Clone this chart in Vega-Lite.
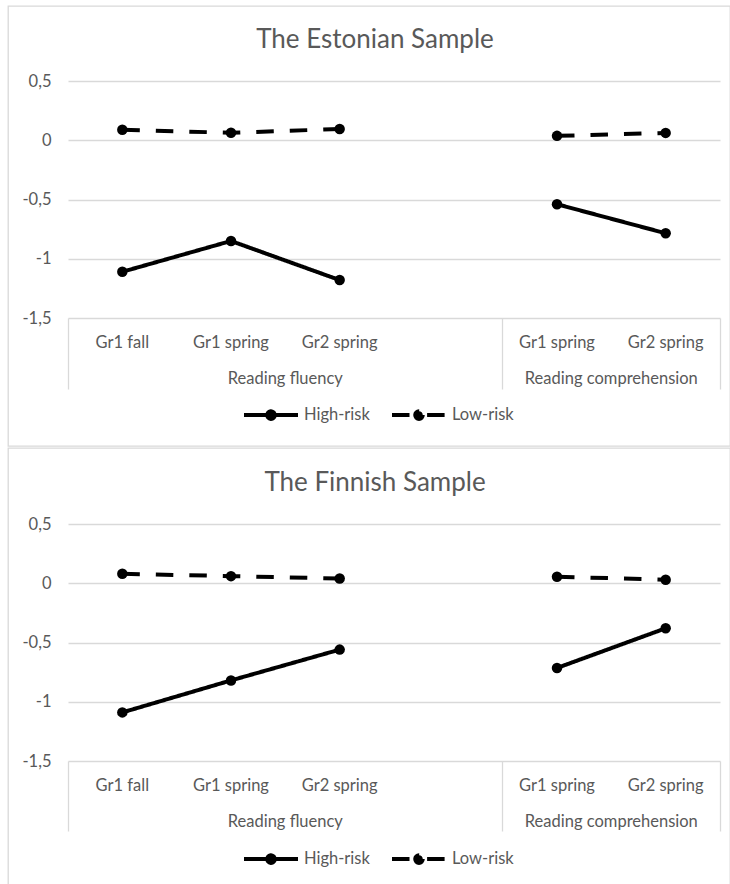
{
  "$schema": "https://vega.github.io/schema/vega-lite/v6.json",
  "padding": {"left": 7, "top": 5, "right": 0, "bottom": 0},
  "spacing": 0,
  "resolve": {"scale": {"strokeDash": "independent"}, "legend": {"strokeDash": "independent"}},
  "datasets": {
    "est": [
      {"measure": "RF", "cat": "RF|Gr1 fall", "risk": "High-risk", "value": -1.11},
      {"measure": "RF", "cat": "RF|Gr1 spring", "risk": "High-risk", "value": -0.85},
      {"measure": "RF", "cat": "RF|Gr2 spring", "risk": "High-risk", "value": -1.18},
      {"measure": "RC", "cat": "RC|Gr1 spring", "risk": "High-risk", "value": -0.54},
      {"measure": "RC", "cat": "RC|Gr2 spring", "risk": "High-risk", "value": -0.785},
      {"measure": "RF", "cat": "RF|Gr1 fall", "risk": "Low-risk", "value": 0.088},
      {"measure": "RF", "cat": "RF|Gr1 spring", "risk": "Low-risk", "value": 0.063},
      {"measure": "RF", "cat": "RF|Gr2 spring", "risk": "Low-risk", "value": 0.095},
      {"measure": "RC", "cat": "RC|Gr1 spring", "risk": "Low-risk", "value": 0.037},
      {"measure": "RC", "cat": "RC|Gr2 spring", "risk": "Low-risk", "value": 0.062}
    ],
    "fin": [
      {"measure": "RF", "cat": "RF|Gr1 fall", "risk": "High-risk", "value": -1.09},
      {"measure": "RF", "cat": "RF|Gr1 spring", "risk": "High-risk", "value": -0.82},
      {"measure": "RF", "cat": "RF|Gr2 spring", "risk": "High-risk", "value": -0.56},
      {"measure": "RC", "cat": "RC|Gr1 spring", "risk": "High-risk", "value": -0.715},
      {"measure": "RC", "cat": "RC|Gr2 spring", "risk": "High-risk", "value": -0.38},
      {"measure": "RF", "cat": "RF|Gr1 fall", "risk": "Low-risk", "value": 0.08},
      {"measure": "RF", "cat": "RF|Gr1 spring", "risk": "Low-risk", "value": 0.06},
      {"measure": "RF", "cat": "RF|Gr2 spring", "risk": "Low-risk", "value": 0.04},
      {"measure": "RC", "cat": "RC|Gr1 spring", "risk": "Low-risk", "value": 0.055},
      {"measure": "RC", "cat": "RC|Gr2 spring", "risk": "Low-risk", "value": 0.03}
    ]
  },
  "config": {
    "font": "Lato",
    "view": {"stroke": "#d9d9d9", "strokeWidth": 1.3},
    "axis": {"labelFont": "Lato", "labelFontSize": 16.5, "labelColor": "#595959", "gridColor": "#d9d9d9", "gridWidth": 1.3},
    "title": {"font": "Lato", "fontSize": 26, "fontWeight": "normal", "color": "#595959", "anchor": "middle", "frame": "group", "baseline": "middle", "dx": 6}
  },
  "vconcat": [
    {
      "width": 722,
      "height": 440,
      "data": {"name": "est"},
      "title": {"text": "The Estonian Sample", "offset": -47},
      "resolve": {"axis": {"x": "independent"}},
      "layer": [
        {
          "mark": {"type": "line", "color": "black", "strokeWidth": 4},
          "encoding": {
            "x": {"field": "cat", "type": "nominal", "scale": {"type": "band", "domain": ["RF|Gr1 fall", "RF|Gr1 spring", "RF|Gr2 spring", "gap|", "RC|Gr1 spring", "RC|Gr2 spring"], "range": [60, 712], "paddingInner": 0, "paddingOuter": 0},
              "axis": {"orient": "bottom", "offset": -128, "labelPadding": 16, "labelExpr": "split(datum.value, '|')[1]", "ticks": false, "domain": false, "title": null, "labelAngle": 0, "grid": false}},
            "y": {"field": "value", "type": "quantitative", "scale": {"domain": [-1.5, 0.5], "range": [312, 75], "nice": false, "zero": false},
              "axis": {"orient": "left", "offset": -60, "labelPadding": 17, "values": [-1.5, -1, -0.5, 0, 0.5], "labelExpr": "replace(toString(datum.value), '.', ',')", "domain": false, "ticks": false, "grid": true, "title": null}},
            "strokeDash": {"field": "risk", "type": "nominal", "scale": {"domain": ["High-risk", "Low-risk"], "range": [[1, 0], [17.5, 16]]},
              "legend": {"orient": "none", "legendX": 234, "legendY": 380, "direction": "horizontal", "title": null, "padding": 0, "symbolSize": 2916, "symbolStrokeWidth": 4, "symbolStrokeColor": "black", "symbolFillColor": "black", "labelOffset": 4, "columnPadding": 14, "labelFont": "Lato", "labelFontSize": 16.5, "labelColor": "#595959",
                "encode": {"symbols": {"update": {"shape": {"signal": "datum.value === 'Low-risk' ? 'M-1,0H-0.3M0.3,0H1M0.14,0A0.14,0.14,0,1,1,-0.14,0A0.14,0.14,0,1,1,0.14,0Z' : 'M-1,0H1M0.14,0A0.14,0.14,0,1,1,-0.14,0A0.14,0.14,0,1,1,0.14,0Z'"}, "strokeDash": {"value": [1, 0]}, "fill": {"value": "black"}, "stroke": {"value": "black"}, "strokeWidth": {"value": 4}, "opacity": {"value": 1}}}}}},
            "detail": {"field": "measure", "type": "nominal"}
          }
        },
        {
          "mark": {"type": "point", "filled": true, "color": "black", "size": 110, "opacity": 1},
          "encoding": {
            "x": {"field": "cat", "type": "nominal", "axis": null},
            "y": {"field": "value", "type": "quantitative"}
          }
        },
        {
          "mark": {"type": "point", "opacity": 0},
          "encoding": {
            "x": {"field": "cat", "type": "nominal", "axis": {"orient": "bottom", "offset": -128, "bandPosition": 0, "values": ["RF|Gr1 fall", "RC|Gr1 spring"], "labels": false, "ticks": true, "tickSize": 71, "tickColor": "#d9d9d9", "tickWidth": 1.3, "domain": false, "title": null, "grid": false}},
            "y": {"field": "value", "type": "quantitative"}
          }
        },
        {
          "mark": {"type": "point", "opacity": 0},
          "encoding": {
            "x": {"field": "cat", "type": "nominal", "axis": {"orient": "bottom", "offset": -128, "bandPosition": 1, "values": ["RC|Gr2 spring"], "labels": false, "ticks": true, "tickSize": 71, "tickColor": "#d9d9d9", "tickWidth": 1.3, "domain": false, "title": null, "grid": false}},
            "y": {"field": "value", "type": "quantitative"}
          }
        },
        {
          "mark": {"type": "point", "opacity": 0},
          "encoding": {
            "x": {"field": "cat", "type": "nominal", "axis": {"orient": "bottom", "offset": -128, "values": ["RF|Gr1 spring", "RC|Gr1 spring"], "labelOffset": 54.3, "labelExpr": "datum.value === 'RF|Gr1 spring' ? 'Reading fluency' : 'Reading comprehension'", "ticks": false, "labelPadding": 52, "domain": false, "title": null, "labelAngle": 0, "grid": false}},
            "y": {"field": "value", "type": "quantitative"}
          }
        }
      ]
    },
    {
      "width": 722,
      "height": 438,
      "data": {"name": "fin"},
      "title": {"text": "The Finnish Sample", "offset": -48},
      "resolve": {"axis": {"x": "independent"}},
      "layer": [
        {
          "mark": {"type": "line", "color": "black", "strokeWidth": 4},
          "encoding": {
            "x": {"field": "cat", "type": "nominal", "scale": {"type": "band", "domain": ["RF|Gr1 fall", "RF|Gr1 spring", "RF|Gr2 spring", "gap|", "RC|Gr1 spring", "RC|Gr2 spring"], "range": [60, 712], "paddingInner": 0, "paddingOuter": 0},
              "axis": {"orient": "bottom", "offset": -125, "labelPadding": 16, "labelExpr": "split(datum.value, '|')[1]", "ticks": false, "domain": false, "title": null, "labelAngle": 0, "grid": false}},
            "y": {"field": "value", "type": "quantitative", "scale": {"domain": [-1.5, 0.5], "range": [313, 76], "nice": false, "zero": false},
              "axis": {"orient": "left", "offset": -60, "labelPadding": 17, "values": [-1.5, -1, -0.5, 0, 0.5], "labelExpr": "replace(toString(datum.value), '.', ',')", "domain": false, "ticks": false, "grid": true, "title": null}},
            "strokeDash": {"field": "risk", "type": "nominal", "scale": {"domain": ["High-risk", "Low-risk"], "range": [[1, 0], [17.5, 16]]},
              "legend": {"orient": "none", "legendX": 234, "legendY": 382, "direction": "horizontal", "title": null, "padding": 0, "symbolSize": 2916, "symbolStrokeWidth": 4, "symbolStrokeColor": "black", "symbolFillColor": "black", "labelOffset": 4, "columnPadding": 14, "labelFont": "Lato", "labelFontSize": 16.5, "labelColor": "#595959",
                "encode": {"symbols": {"update": {"shape": {"signal": "datum.value === 'Low-risk' ? 'M-1,0H-0.3M0.3,0H1M0.14,0A0.14,0.14,0,1,1,-0.14,0A0.14,0.14,0,1,1,0.14,0Z' : 'M-1,0H1M0.14,0A0.14,0.14,0,1,1,-0.14,0A0.14,0.14,0,1,1,0.14,0Z'"}, "strokeDash": {"value": [1, 0]}, "fill": {"value": "black"}, "stroke": {"value": "black"}, "strokeWidth": {"value": 4}, "opacity": {"value": 1}}}}}},
            "detail": {"field": "measure", "type": "nominal"}
          }
        },
        {
          "mark": {"type": "point", "filled": true, "color": "black", "size": 110, "opacity": 1},
          "encoding": {
            "x": {"field": "cat", "type": "nominal", "axis": null},
            "y": {"field": "value", "type": "quantitative"}
          }
        },
        {
          "mark": {"type": "point", "opacity": 0},
          "encoding": {
            "x": {"field": "cat", "type": "nominal", "axis": {"orient": "bottom", "offset": -125, "bandPosition": 0, "values": ["RF|Gr1 fall", "RC|Gr1 spring"], "labels": false, "ticks": true, "tickSize": 70, "tickColor": "#d9d9d9", "tickWidth": 1.3, "domain": false, "title": null, "grid": false}},
            "y": {"field": "value", "type": "quantitative"}
          }
        },
        {
          "mark": {"type": "point", "opacity": 0},
          "encoding": {
            "x": {"field": "cat", "type": "nominal", "axis": {"orient": "bottom", "offset": -125, "bandPosition": 1, "values": ["RC|Gr2 spring"], "labels": false, "ticks": true, "tickSize": 70, "tickColor": "#d9d9d9", "tickWidth": 1.3, "domain": false, "title": null, "grid": false}},
            "y": {"field": "value", "type": "quantitative"}
          }
        },
        {
          "mark": {"type": "point", "opacity": 0},
          "encoding": {
            "x": {"field": "cat", "type": "nominal", "axis": {"orient": "bottom", "offset": -125, "values": ["RF|Gr1 spring", "RC|Gr1 spring"], "labelOffset": 54.3, "labelExpr": "datum.value === 'RF|Gr1 spring' ? 'Reading fluency' : 'Reading comprehension'", "ticks": false, "labelPadding": 52, "domain": false, "title": null, "labelAngle": 0, "grid": false}},
            "y": {"field": "value", "type": "quantitative"}
          }
        }
      ]
    }
  ]
}
